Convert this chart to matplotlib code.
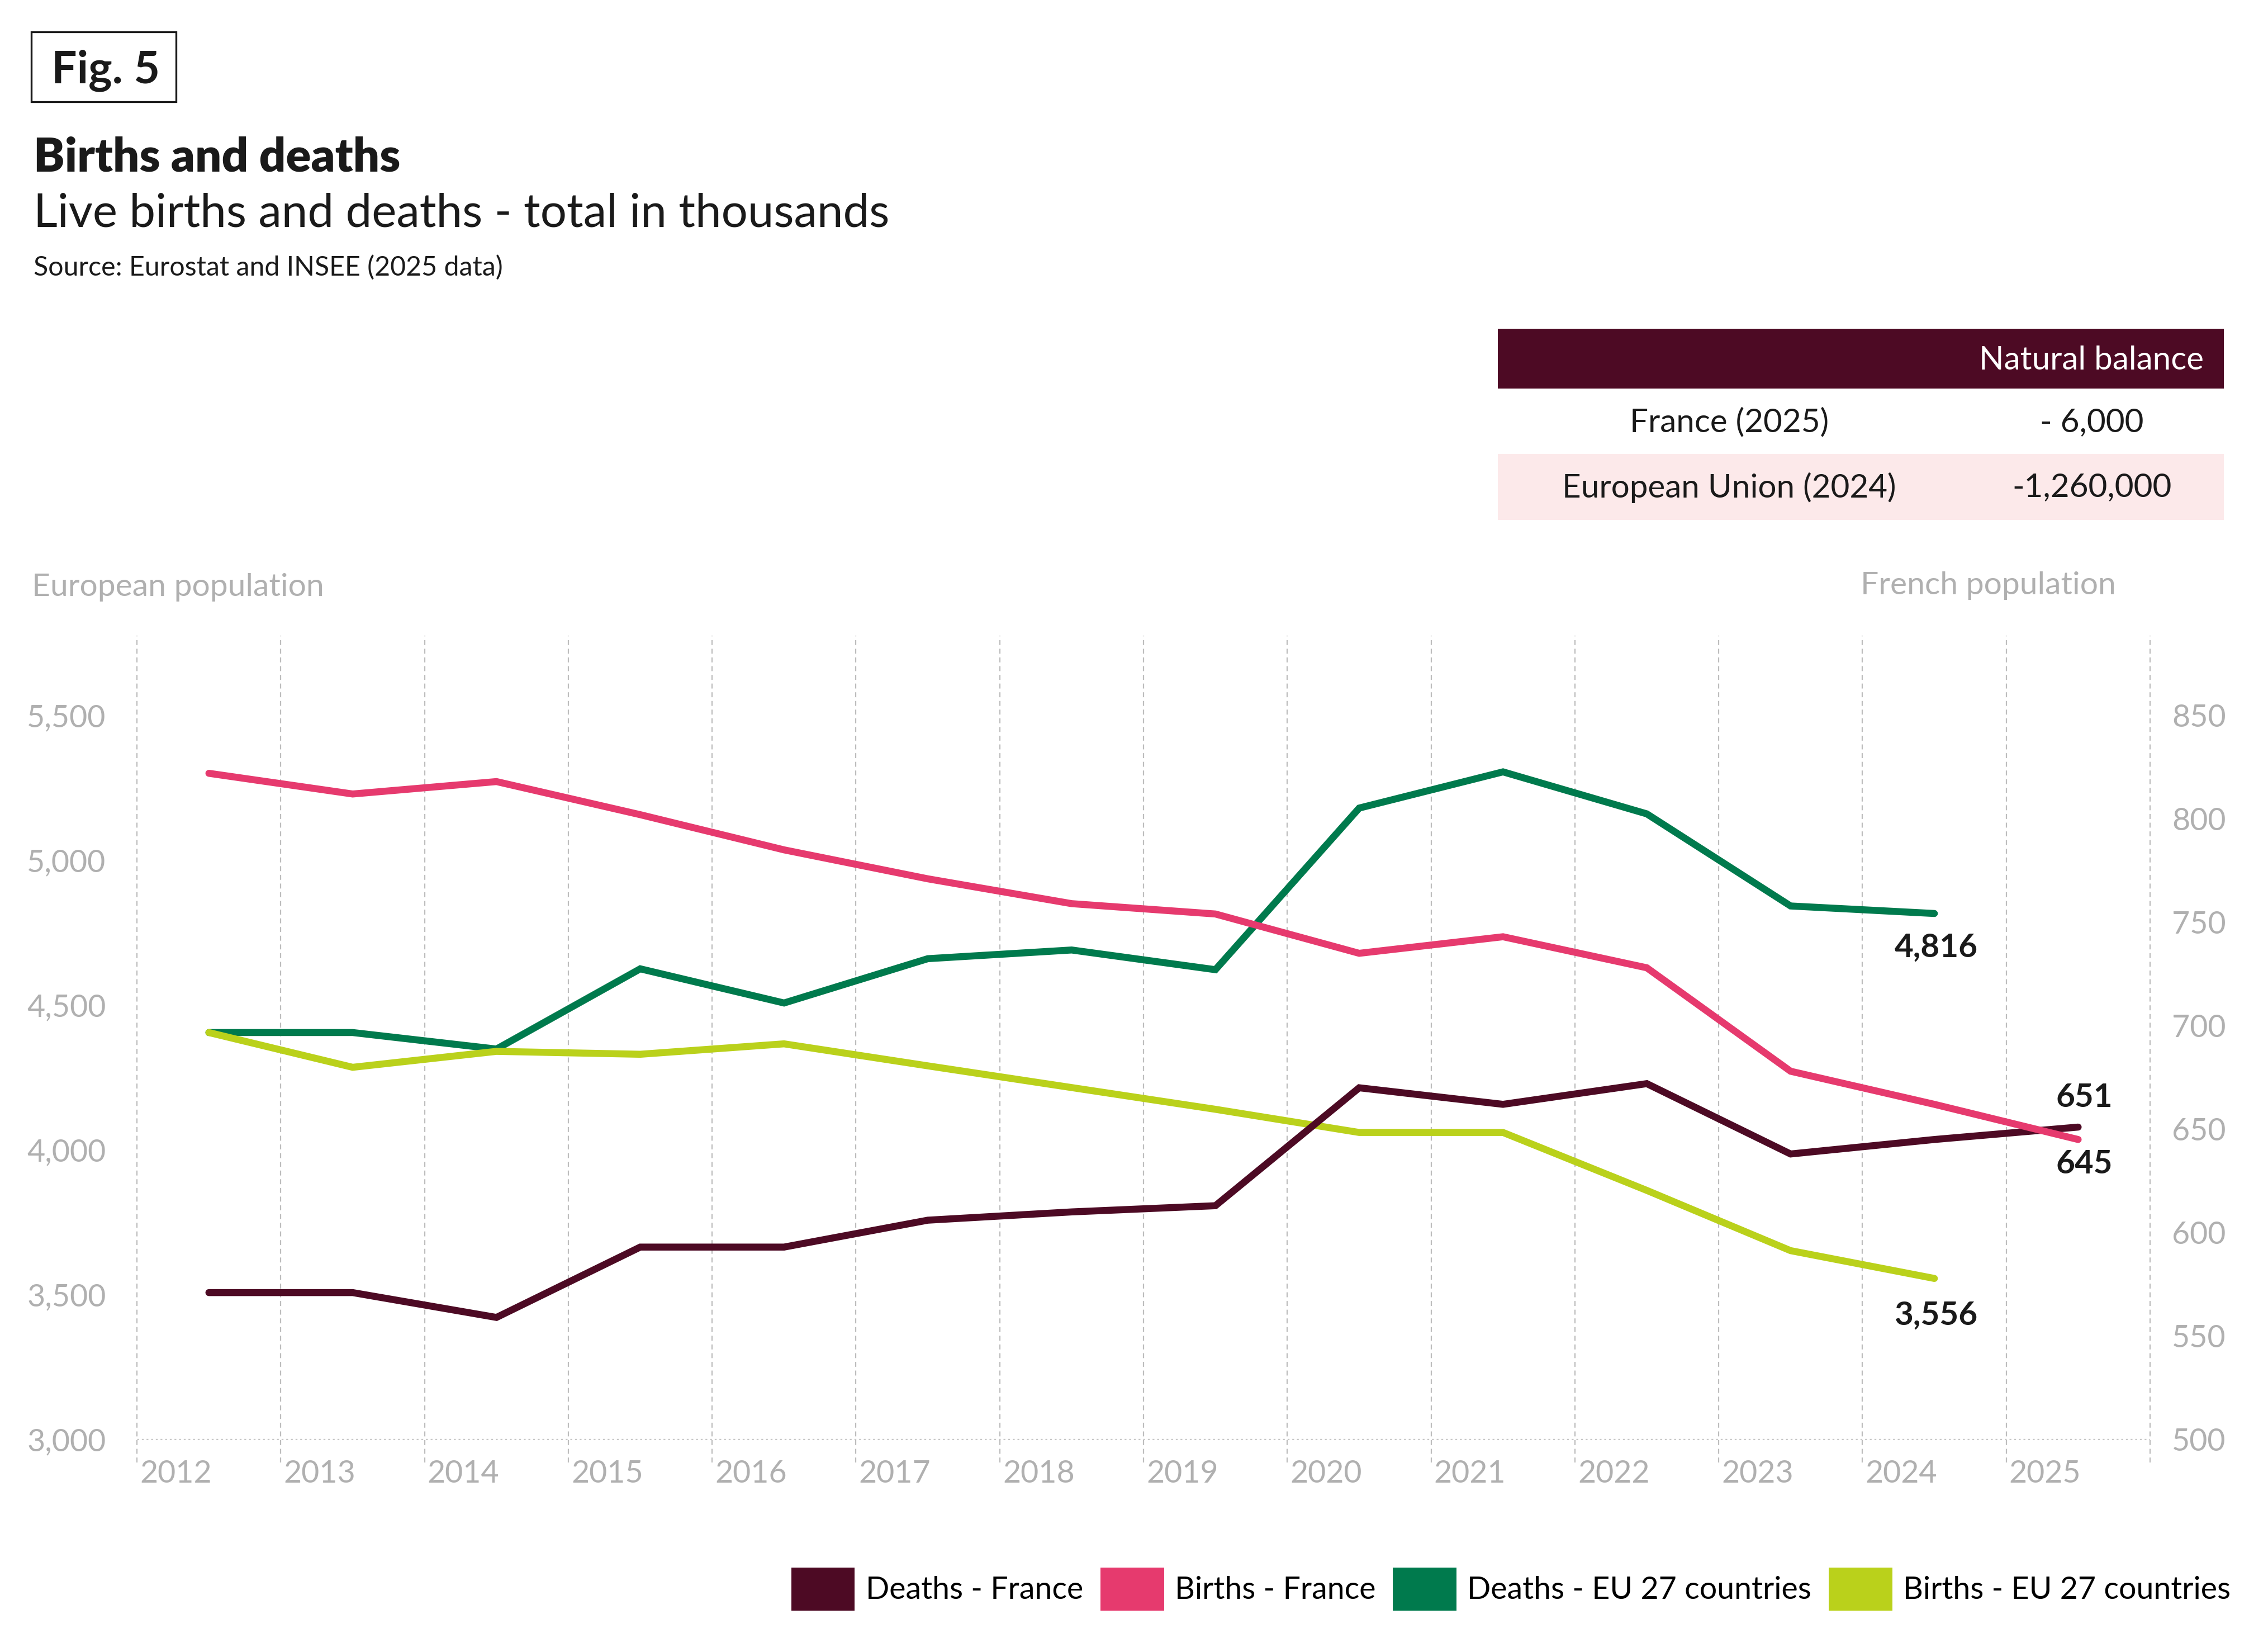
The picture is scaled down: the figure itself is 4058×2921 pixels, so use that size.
import numpy as np
import matplotlib.pyplot as plt
from matplotlib.patches import Patch, Rectangle
from matplotlib.ticker import FuncFormatter

plt.rcParams['font.family'] = ['Lato', 'DejaVu Sans']

# data (thousands)
years = list(range(2012, 2026))
deaths_fr = [571, 571, 559, 593, 593, 606, 610, 613, 670, 662, 672, 638, 645, 651]
births_fr = [822, 812, 818, 802, 785, 771, 759, 754, 735, 743, 728, 678, 662, 645]

years_eu = list(range(2012, 2025))
deaths_eu = [4405, 4405, 4348, 4625, 4507, 4660, 4690, 4622, 5180, 5305, 5160, 4842, 4816]
births_eu = [4405, 4285, 4340, 4330, 4366, 4290, 4215, 4140, 4060, 4060, 3860, 3652, 3556]

left_ticks = [3000, 3500, 4000, 4500, 5000, 5500]
right_ticks = [500, 550, 600, 650, 700, 750, 800, 850]

table_rows = ["France (2025)", "European Union (2024)"]
table_vals = ["- 6,000", "-1,260,000"]
legend_labels = ["Deaths - France", "Births - France",
                 "Deaths - EU 27 countries", "Births - EU 27 countries"]

MAROON = '#4d0a24'
PINK = '#e63a6e'
GREEN = '#007a4d'
LIME = '#bad11b'
GREY = '#b0b0b0'
DARK = '#1a1a1a'

fig = plt.figure(figsize=(20.29, 14.605), dpi=200)

# header texts
fig.patches.append(Rectangle((0.0138, 0.9377), 0.0638, 0.0428, transform=fig.transFigure,
                             fill=False, ec=DARK, lw=1.2))
fig.text(0.0227, 0.9493, "Fig. 5", fontsize=29, fontweight='bold', color=DARK, va='baseline')
fig.text(0.0148, 0.8949, "Births and deaths", fontsize=30, fontweight='heavy', color=DARK, va='baseline')
fig.text(0.0148, 0.8613, "Live births and deaths - total in thousands", fontsize=30,
         color=DARK, va='baseline')
fig.text(0.0148, 0.8312, "Source: Eurostat and INSEE (2025 data)", fontsize=17.4,
         color=DARK, va='baseline')

# natural balance table
tx0, tx1 = 0.6604, 0.9805
fig.patches.append(Rectangle((tx0, 0.7621), tx1 - tx0, 0.0366, transform=fig.transFigure,
                             fc=MAROON, ec='none'))
fig.patches.append(Rectangle((tx0, 0.6816), tx1 - tx0, 0.0404, transform=fig.transFigure,
                             fc='#fce9ea', ec='none'))
fig.text(0.9717, 0.7795, "Natural balance", fontsize=21, color='white', ha='right', va='center')
for yy, name, val in zip([0.7412, 0.7015], table_rows, table_vals):
    fig.text(0.7624, yy, name, fontsize=21, color=DARK, ha='center', va='center')
    fig.text(0.9224, yy, val, fontsize=21, color=DARK, ha='center', va='center')

# chart
ax = fig.add_axes([0.0604, 0.1185, 0.8876, 0.4922])
ax2 = ax.twinx()

x_fr = np.array(years) + 0.5
x_eu = np.array(years_eu) + 0.5

style = dict(lw=4.5, solid_capstyle='round', solid_joinstyle='miter')
ax.plot(x_eu, deaths_eu, color=GREEN, **style)
ax.plot(x_eu, births_eu, color=LIME, **style)
ax2.plot(x_fr, deaths_fr, color=MAROON, **style)
ax2.plot(x_fr, births_fr, color=PINK, **style)

ax.set_xlim(2012, 2026)
ax.set_ylim(3000, 5775)
ax2.set_ylim(500, 500 + 0.14 * 2775)

for a in (ax, ax2):
    for s in a.spines.values():
        s.set_visible(False)
    a.tick_params(length=0, colors=GREY, labelsize=20)

ax.set_xticks([])
ax.set_yticks(left_ticks)
ax.yaxis.set_major_formatter(FuncFormatter(lambda v, p: f"{int(v):,}"))
ax.tick_params(axis='y', pad=20)
ax2.set_yticks(right_ticks)
ax2.tick_params(axis='y', pad=14)

# vertical year grid, a bit below the axis line
for yr in range(2012, 2027):
    ax.axvline(yr, ymin=-0.0285, ymax=1, color='#bdbdbd', lw=0.8, ls=(0, (4, 3)),
               clip_on=False, zorder=0)
ax.axhline(3000, color='#a8a8a8', lw=1.2, ls=(0, (1, 1.5)), zorder=0)

xt = ax.get_xaxis_transform()
for yr in years:
    ax.text(yr + 0.02, -0.043, str(yr), transform=xt, ha='left', va='center',
            fontsize=20, color=GREY)

fig.text(0.0140, 0.6402, "European population", fontsize=20.5, color=GREY, va='center')
fig.text(0.9330, 0.6415, "French population", fontsize=20.5, color=GREY, ha='right', va='center')

# end labels
lab = dict(fontsize=21, fontweight='bold', color=DARK, ha='center', va='center',
           textcoords='offset points')
ax.annotate(f"{deaths_eu[-1]:,}", xy=(x_eu[-1], deaths_eu[-1]), xytext=(1, -22), **lab)
ax.annotate(f"{births_eu[-1]:,}", xy=(x_eu[-1], births_eu[-1]), xytext=(1, -24), **lab)
ax2.annotate(f"{deaths_fr[-1]:,}", xy=(x_fr[-1], deaths_fr[-1]), xytext=(4, 19), **lab)
ax2.annotate(f"{births_fr[-1]:,}", xy=(x_fr[-1], births_fr[-1]), xytext=(4, -16), **lab)

# legend
handles = [Patch(fc=c, ec='none') for c in (MAROON, PINK, GREEN, LIME)]
fig.legend(handles, legend_labels, loc='center right', bbox_to_anchor=(0.9835, 0.027),
           ncol=4, frameon=False, fontsize=20, handlelength=2.05, handleheight=1.75,
           handletextpad=0.35, columnspacing=0.55, borderpad=0, borderaxespad=0)

fig.savefig('out.png', dpi=200, facecolor='white')
